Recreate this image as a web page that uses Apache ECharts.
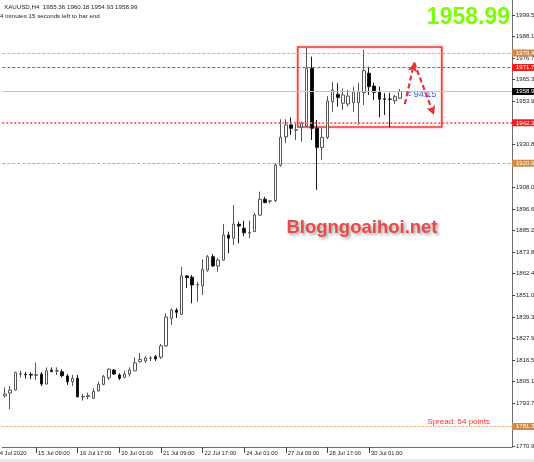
<!DOCTYPE html>
<html><head><meta charset="utf-8">
<script src="https://cdn.jsdelivr.net/npm/echarts@6/dist/echarts.min.js"></script>
<style>html,body{margin:0;padding:0;background:#fff;}#c{width:534px;height:462px;}</style>
</head><body><div id="c"></div>
<script>
// ---- data ----
const symbolName = 'XAUUSD,H4';
const timerText = '4 minutes 15 seconds left to bar end';
const bigPrice = '1958.99';
const watermark = 'Blogngoaihoi.net';
const timerLabel = '< 94:15';
const spreadText = 'Spread: 54 points';

// H4 bars, first bar = 14 Jul 09:00 (slot 0)
const opens  = [1797.5,1799.0,1800.6,1809.0,1808.9,1808.9,1808.4,1809.0,1803.8,1811.2,1810.6,1810.3,1808.0,1805.0,1806.8,1797.0,1797.2,1796.2,1800.1,1803.6,1807.1,1811.2,1808.6,1807.3,1809.0,1810.8,1815.7,1816.0,1817.4,1818.3,1818.0,1824.0,1838.6,1843.0,1840.7,1861.1,1860.4,1856.3,1855.8,1864.2,1871.3,1866.4,1869.5,1882.8,1881.1,1888.5,1886.4,1883.8,1884.6,1893.4,1901.8,1900.7,1901.0,1919.9,1934.9,1941.2,1938.4,1939.9,1940.6,1971.2,1939.4,1929.3,1934.6,1953.5,1957.4,1952.7,1952.3,1953.0,1953.0,1958.3,1968.6,1961.8,1958.8,1955.1,1954.9,1954.0,1955.36];
const closes = [1798.5,1800.6,1809.8,1809.3,1808.7,1808.5,1808.7,1803.8,1810.8,1810.4,1810.9,1808.2,1805.0,1806.8,1797.0,1797.2,1797.6,1799.8,1803.6,1807.7,1811.6,1809.1,1806.8,1809.1,1811.2,1815.0,1816.8,1817.6,1817.6,1817.1,1824.0,1839.3,1843.0,1841.8,1861.1,1860.2,1856.3,1856.5,1864.6,1871.3,1866.4,1869.5,1882.8,1881.1,1888.6,1887.6,1884.0,1884.1,1893.4,1901.8,1900.0,1900.9,1919.9,1934.6,1941.2,1939.4,1938.6,1942.1,1971.2,1939.4,1929.3,1934.6,1953.9,1959.7,1955.8,1957.1,1956.5,1958.8,1958.8,1970.0,1961.5,1958.5,1954.8,1954.8,1954.8,1956.2,1958.99];
const lows   = [1796.5,1790.5,1800.3,1807.3,1806.7,1806.3,1805.9,1802.7,1803.5,1810.0,1808.6,1807.3,1803.3,1802.7,1796.6,1795.0,1795.7,1795.8,1799.8,1803.0,1805.9,1808.6,1805.9,1806.8,1807.7,1810.5,1815.1,1815.1,1816.0,1816.0,1817.1,1823.5,1835.1,1838.8,1840.4,1854.7,1846.6,1847.4,1851.0,1863.3,1866.0,1863.3,1869.2,1873.1,1877.5,1878.4,1882.3,1881.1,1884.4,1893.0,1899.6,1899.6,1900.3,1919.0,1931.5,1935.9,1933.2,1932.3,1940.1,1933.2,1906.7,1922.6,1933.7,1948.2,1950.9,1949.1,1950.9,1948.2,1941.2,1951.8,1957.1,1954.4,1945.2,1946.5,1940.0,1952.3,1954.93];
const highs  = [1802.0,1802.7,1810.3,1810.8,1810.2,1809.9,1815.1,1810.0,1812.6,1812.6,1812.6,1811.6,1809.1,1808.6,1808.6,1798.5,1799.2,1801.5,1805.0,1808.6,1812.1,1811.6,1809.5,1810.8,1812.6,1818.0,1820.2,1818.6,1818.6,1819.2,1825.0,1841.3,1843.9,1844.1,1865.9,1861.6,1861.6,1858.0,1869.9,1872.2,1872.7,1870.5,1888.6,1884.6,1898.7,1889.9,1890.4,1890.4,1894.5,1905.8,1903.1,1901.4,1920.9,1944.2,1944.2,1945.2,1942.9,1942.9,1982.0,1977.4,1943.8,1939.4,1956.5,1964.0,1963.3,1960.6,1959.7,1961.5,1963.6,1980.9,1972.1,1963.6,1961.5,1958.0,1958.3,1957.1,1960.18];
const slotCount = 98;          // bars + empty chart-shift slots
const labelEvery = 8;
const labelOffset = 2;         // first time label sits 2 bars before the first visible bar
const timeTickLabels = ['14 Jul 2020','15 Jul 09:00','16 Jul 17:00','20 Jul 01:00','21 Jul 09:00','22 Jul 17:00','24 Jul 01:00','27 Jul 09:00','28 Jul 17:00','30 Jul 01:00'];
const priceTicks = [1999.5,1988.1,1976.7,1965.3,1953.9,1930.8,1908.0,1896.6,1885.2,1873.8,1862.4,1851.0,1839.3,1827.9,1816.5,1805.1,1793.7,1770.9];
const priceMin = 1770.37, priceMax = 2007.46;
const levelValues = [1979.4, 1971.7, 1958.99, 1942.3, 1920.9, 1781.3];
const levelLabels = ['1979.4', '1971.7', '1958.99', '1942.3', '1920.9', '1781.3'];
// annotation geometry (bar slot, price)
const boxCorners = [[56.3, 1982.5], [84.0, 1940.1]];
const arrowPath = [[76.9, 1952.3], [78.7, 1974.2], [82.5, 1946.5]];

// ---- styles ----
const levelStyles = [
  {line:'#E2A878', type:[3,2], width:1, bg:'#D08848'},
  {line:'#E43C3C', type:[3,2], width:1, bg:'#F01E1E'},
  {line:'#C4C4C4', type:'solid', width:1, bg:'#000000'},
  {line:'#FF6E6E', type:[2,2], width:2, bg:'#F01E1E'},
  {line:'#E2A070', type:[3,2], width:1, bg:'#D08848'},
  {line:'#F0A060', type:[2,2], width:1, bg:'#D08848'}
];

const candles = opens.map((o, i) => [i, o, closes[i], lows[i], highs[i]]);
const slots = Array.from({length: slotCount}, (_, i) => String(i));
const last = opens.length - 1;
const headerText = symbolName + '  ' + [opens[last], highs[last], lows[last], closes[last]].map(v => v.toFixed(2)).join(' ');
const labelPos = (idx) => (idx + labelOffset) / labelEvery;
const showTick = (idx) => { const p = labelPos(idx); return Number.isInteger(p) && p >= 1 && p < timeTickLabels.length; };

const gridLeft = 2.3, gridRight = 22;
const chart = echarts.init(document.getElementById('c'), null, {renderer: 'canvas'});
const font = '"Liberation Sans", Arial, sans-serif';
chart.setOption({
  animation: false,
  backgroundColor: '#ffffff',
  grid: {left: gridLeft, right: gridRight, top: 0, bottom: 15, containLabel: false, outerBoundsMode: 'none'},
  xAxis: [{
    type: 'category', data: slots, boundaryGap: true,
    axisLine: {onZero: false, lineStyle: {color: '#6e6e6e', width: 1}},
    axisTick: {show: true, alignWithLabel: true, interval: showTick, length: 6, lineStyle: {color: '#444'}},
    axisLabel: {interval: showTick, formatter: (v, i) => timeTickLabels[labelPos(i)] || '', align: 'left',
      fontSize: 5.8, fontFamily: font, color: '#222', margin: 3, padding: [0, 0, 0, 2]},
    splitLine: {show: false}
  }, {
    type: 'value', min: -0.5, max: slotCount - 0.5, show: false
  }],
  yAxis: {
    type: 'value', position: 'right', min: priceMin, max: priceMax,
    axisLine: {show: true, onZero: false, lineStyle: {color: '#6e6e6e'}},
    axisTick: {show: true, customValues: priceTicks, length: 3, lineStyle: {color: '#444'}},
    axisLabel: {customValues: priceTicks, formatter: v => v.toFixed(1), fontSize: 6, fontFamily: font, color: '#222', margin: 4},
    splitLine: {show: false}
  },
  series: [{
    type: 'candlestick', xAxisIndex: 0, yAxisIndex: 0,
    data: candles, encode: {x: 0, y: [1, 2, 3, 4]},
    barWidth: 3,
    itemStyle: {color: '#ffffff', color0: '#000000', borderColor: '#555555', borderColor0: '#1a1a1a', borderWidth: 1},
    markLine: {
      silent: true, symbol: 'none', animation: false,
      data: levelValues.map((v, i) => ({
        yAxis: v,
        lineStyle: {color: levelStyles[i].line, type: levelStyles[i].type, width: levelStyles[i].width},
        label: {show: true, position: 'end', distance: 0, formatter: levelLabels[i],
          backgroundColor: levelStyles[i].bg, color: '#ffffff', fontSize: 6, fontFamily: font,
          padding: [1, 12, 0, 4], lineHeight: 6}
      }))
    }
  }, {
    type: 'line', xAxisIndex: 1, yAxisIndex: 0, data: [], showSymbol: false,
    markArea: {
      silent: true,
      itemStyle: {color: 'rgba(0,0,0,0)', borderColor: '#E84040', borderWidth: 1.6, shadowBlur: 3, shadowColor: 'rgba(255,60,60,0.5)'},
      data: [[{coord: boxCorners[0]}, {coord: boxCorners[1]}]]
    },
    markLine: {
      silent: true, symbol: ['none', 'arrow'], symbolSize: [7, 9],
      lineStyle: {color: '#E83030', width: 2.2, type: [5, 3]},
      label: {show: false},
      data: [
        [{coord: arrowPath[0]}, {coord: arrowPath[1]}],
        [{coord: arrowPath[1]}, {coord: arrowPath[2]}]
      ]
    }
  }],
  graphic: [
    {type: 'rect', left: 0, top: 459, shape: {width: 534, height: 3}, style: {fill: '#ECECEC'}, silent: true},
    // first time label: its tick falls left of the visible area, so the text is clipped by the window edge
    {type: 'text', x: gridLeft + 5.201 * (0.5 - labelOffset) + 2, y: 453.5, style: {text: timeTickLabels[0], font: '5.8px ' + font, fill: '#222', textVerticalAlign: 'middle'}},
    {type: 'text', x: 4, y: 7, style: {text: headerText, font: '6.2px ' + font, fill: '#222', textVerticalAlign: 'middle'}},
    {type: 'text', x: 0, y: 16, style: {text: timerText, font: '6.2px ' + font, fill: '#222', textVerticalAlign: 'middle'}},
    {type: 'text', x: 510, y: 18, style: {text: bigPrice, font: 'bold 23px ' + font, fill: '#7CFC00', textAlign: 'right', textVerticalAlign: 'middle'}},
    {type: 'text', x: 362, y: 228, style: {text: watermark, font: 'bold 18.5px ' + font, fill: '#E84848', textAlign: 'center', textVerticalAlign: 'middle',
      textShadowColor: 'rgba(0,0,0,0.35)', textShadowBlur: 3, textShadowOffsetX: 2, textShadowOffsetY: 2}},
    {type: 'text', x: 406, y: 95, style: {text: timerLabel, font: '9px ' + font, fill: '#3355EE', textVerticalAlign: 'middle'}},
    {type: 'text', x: 490, y: 422, style: {text: spreadText, font: '8px ' + font, fill: '#FF2A2A', textAlign: 'right', textVerticalAlign: 'middle'}}
  ]
});
</script></body></html>
